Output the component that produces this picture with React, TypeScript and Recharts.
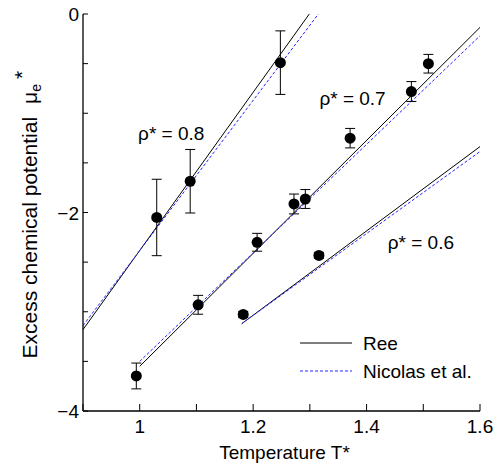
import {
  ComposedChart,
  ErrorBar,
  Legend,
  Line,
  Scatter,
  XAxis,
  YAxis,
} from 'recharts';

// simulation points (T*, mu_e*, error)
const rho08Points = [
  { x: 1.03, y: -2.05, err: 0.385 },
  { x: 1.089, y: -1.685, err: 0.32 },
  { x: 1.248, y: -0.49, err: 0.32 },
];
const rho07Points = [
  { x: 0.994, y: -3.647, err: 0.13 },
  { x: 1.103, y: -2.93, err: 0.095 },
  { x: 1.207, y: -2.3, err: 0.09 },
  { x: 1.272, y: -1.914, err: 0.1 },
  { x: 1.292, y: -1.864, err: 0.095 },
  { x: 1.371, y: -1.251, err: 0.098 },
  { x: 1.479, y: -0.781, err: 0.1 },
  { x: 1.509, y: -0.501, err: 0.094 },
];
const rho06Points = [
  { x: 1.1825, y: -3.027, err: 0.03 },
  { x: 1.316, y: -2.432, err: 0.03 },
];

// fitted curves
const ree08 = [{ x: 0.9, y: -3.18 }, { x: 1.299, y: 0 }];
const nic08 = [{ x: 0.9, y: -3.14 }, { x: 1.315, y: 0 }];
const ree07 = [{ x: 1.0, y: -3.55 }, { x: 1.6, y: -0.135 }];
const nic07 = [{ x: 1.0, y: -3.5 }, { x: 1.6, y: -0.22 }];
const ree06 = [{ x: 1.18, y: -3.12 }, { x: 1.6, y: -1.336 }];
const nic06 = [{ x: 1.18, y: -3.12 }, { x: 1.6, y: -1.386 }];

const rhoLabels = [
  { x: 1.0556, y: -1.2, text: 'ρ* = 0.8' },
  { x: 1.3753, y: -0.848, text: 'ρ* = 0.7' },
  { x: 1.4957, y: -2.295, text: 'ρ* = 0.6' },
];

const xTicks = [0.9, 1.0, 1.1, 1.2, 1.3, 1.4, 1.5, 1.6];
const yTicks = [-4, -3.5, -3, -2.5, -2, -1.5, -1, -0.5, 0];
const legendNames = ['Ree', 'Nicolas et al.'];

const FONT = '"Liberation Sans", Arial, sans-serif';
const BLUE = '#2424ff';
const DASH = '3 2';

const BottomTick = (props: any) => {
  const { x, y, payload } = props;
  const v = payload.value;
  const show = Math.round(v * 10) % 2 === 0;
  return (
    <g>
      <line x1={x} x2={x} y1={y} y2={y - 7} stroke="#000" />
      {show && (
        <text x={x} y={y + 22} textAnchor="middle" fontSize={19} fill="#000">
          {Number.isInteger(v) ? String(v) : v.toFixed(1)}
        </text>
      )}
    </g>
  );
};

const TopTick = (props: any) => {
  const { x, y } = props;
  return <line x1={x} x2={x} y1={y} y2={y + 7} stroke="#000" />;
};

const LeftTick = (props: any) => {
  const { x, y, payload } = props;
  const v = payload.value;
  const show = v % 2 === 0;
  return (
    <g>
      <line x1={x} x2={x + 5} y1={y} y2={y} stroke="#000" />
      {show && (
        <text x={x - 4} y={y + 7} textAnchor="end" fontSize={19} fill="#000">
          {v < 0 ? '\u2212' + Math.abs(v) : String(v)}
        </text>
      )}
    </g>
  );
};

const RightTick = (props: any) => {
  const { x, y } = props;
  return <line x1={x} x2={x - 5} y1={y} y2={y} stroke="#000" />;
};

const YLabel = (props: any) => {
  const { viewBox } = props;
  const cx = viewBox.x + 37;
  const cy = viewBox.y + viewBox.height / 2;
  return (
    <text
      x={cx - 146}
      y={cy}
      transform={`rotate(-90, ${cx}, ${cy})`}
      textAnchor="start"
      fontSize={21}
      fill="#000"
    >
      Excess chemical potential
      <tspan dx={13}>μ</tspan>
      <tspan dy={4} fontSize={14}>e</tspan>
      <tspan dx={5} dy={-12} fontSize={21}>*</tspan>
    </text>
  );
};

const XLabel = (props: any) => {
  const { viewBox } = props;
  return (
    <text x={viewBox.x + viewBox.width / 2 + 3} y={459} textAnchor="middle" fontSize={19} fill="#000">
      Temperature T*
    </text>
  );
};

const Dot = (props: any) => <circle cx={props.cx} cy={props.cy} r={5.5} fill="#000" />;

const RhoText = (props: any) => (
  <text x={props.cx} y={props.cy + 7} textAnchor="middle" fontSize={19} fill="#000">
    {props.payload.text}
  </text>
);

const LegendBox = () => (
  <svg width={190} height={56} style={{ fontFamily: FONT, display: 'block' }}>
    {legendNames.map((name, i) => (
      <g key={name}>
        <line
          x1={0}
          x2={52}
          y1={14 + i * 28}
          y2={14 + i * 28}
          stroke={i === 0 ? '#000' : BLUE}
          strokeDasharray={i === 0 ? undefined : DASH}
        />
        <text x={63} y={14 + i * 28 + 7} fontSize={19} fill="#000">
          {name}
        </text>
      </g>
    ))}
  </svg>
);

export default function App() {
  return (
    <div style={{ position: 'absolute', left: 0, top: 0, fontFamily: FONT }}>
      <ComposedChart
        width={500}
        height={465}
        margin={{ top: 14, right: 20, bottom: 0, left: 0 }}
        style={{ fontFamily: FONT }}
      >
        <XAxis
          type="number"
          dataKey="x"
          domain={[0.9, 1.6]}
          ticks={xTicks}
          interval={0}
          height={54}
          tickSize={0}
          tickMargin={0}
          tickLine={false}
          tick={<BottomTick />}
          axisLine={{ stroke: '#000', strokeWidth: 1.3 }}
          label={<XLabel />}
        />
        <XAxis
          xAxisId="top"
          orientation="top"
          type="number"
          dataKey="x"
          domain={[0.9, 1.6]}
          ticks={xTicks}
          interval={0}
          height={0}
          tickSize={0}
          tickMargin={0}
          tickLine={false}
          tick={<TopTick />}
          axisLine={{ stroke: '#000', strokeWidth: 1.3 }}
        />
        <YAxis
          type="number"
          domain={[-4, 0]}
          ticks={yTicks}
          interval={0}
          width={83}
          tickSize={0}
          tickMargin={0}
          tickLine={false}
          tick={<LeftTick />}
          axisLine={{ stroke: '#000', strokeWidth: 1.3 }}
          label={<YLabel />}
        />
        <YAxis
          yAxisId="right"
          orientation="right"
          type="number"
          domain={[-4, 0]}
          ticks={yTicks}
          interval={0}
          width={0}
          tickSize={0}
          tickMargin={0}
          tickLine={false}
          tick={<RightTick />}
          axisLine={{ stroke: '#000', strokeWidth: 1.3 }}
        />

        <Line data={ree08} dataKey="y" stroke="#000" strokeWidth={1} dot={false} isAnimationActive={false} />
        <Line data={nic08} dataKey="y" stroke={BLUE} strokeWidth={1} strokeDasharray={DASH} dot={false} isAnimationActive={false} />
        <Line data={ree07} dataKey="y" stroke="#000" strokeWidth={1} dot={false} isAnimationActive={false} />
        <Line data={nic07} dataKey="y" stroke={BLUE} strokeWidth={1} strokeDasharray={DASH} dot={false} isAnimationActive={false} />
        <Line data={ree06} dataKey="y" stroke="#000" strokeWidth={1} dot={false} isAnimationActive={false} />
        <Line data={nic06} dataKey="y" stroke={BLUE} strokeWidth={1} strokeDasharray={DASH} dot={false} isAnimationActive={false} />

        {[rho08Points, rho07Points, rho06Points].map((pts, i) => (
          <Scatter key={i} data={pts} dataKey="y" shape={<Dot />} isAnimationActive={false}>
            <ErrorBar dataKey="err" direction="y" width={5} stroke="#000" strokeWidth={1} isAnimationActive={false} />
          </Scatter>
        ))}
        <Scatter data={rhoLabels} dataKey="y" shape={<RhoText />} isAnimationActive={false} />

        <Legend
          layout="horizontal"
          verticalAlign="middle"
          align="center"
          content={() => <LegendBox />}
          wrapperStyle={{ left: 300, top: 329, width: 190 }}
        />
      </ComposedChart>
    </div>
  );
}
